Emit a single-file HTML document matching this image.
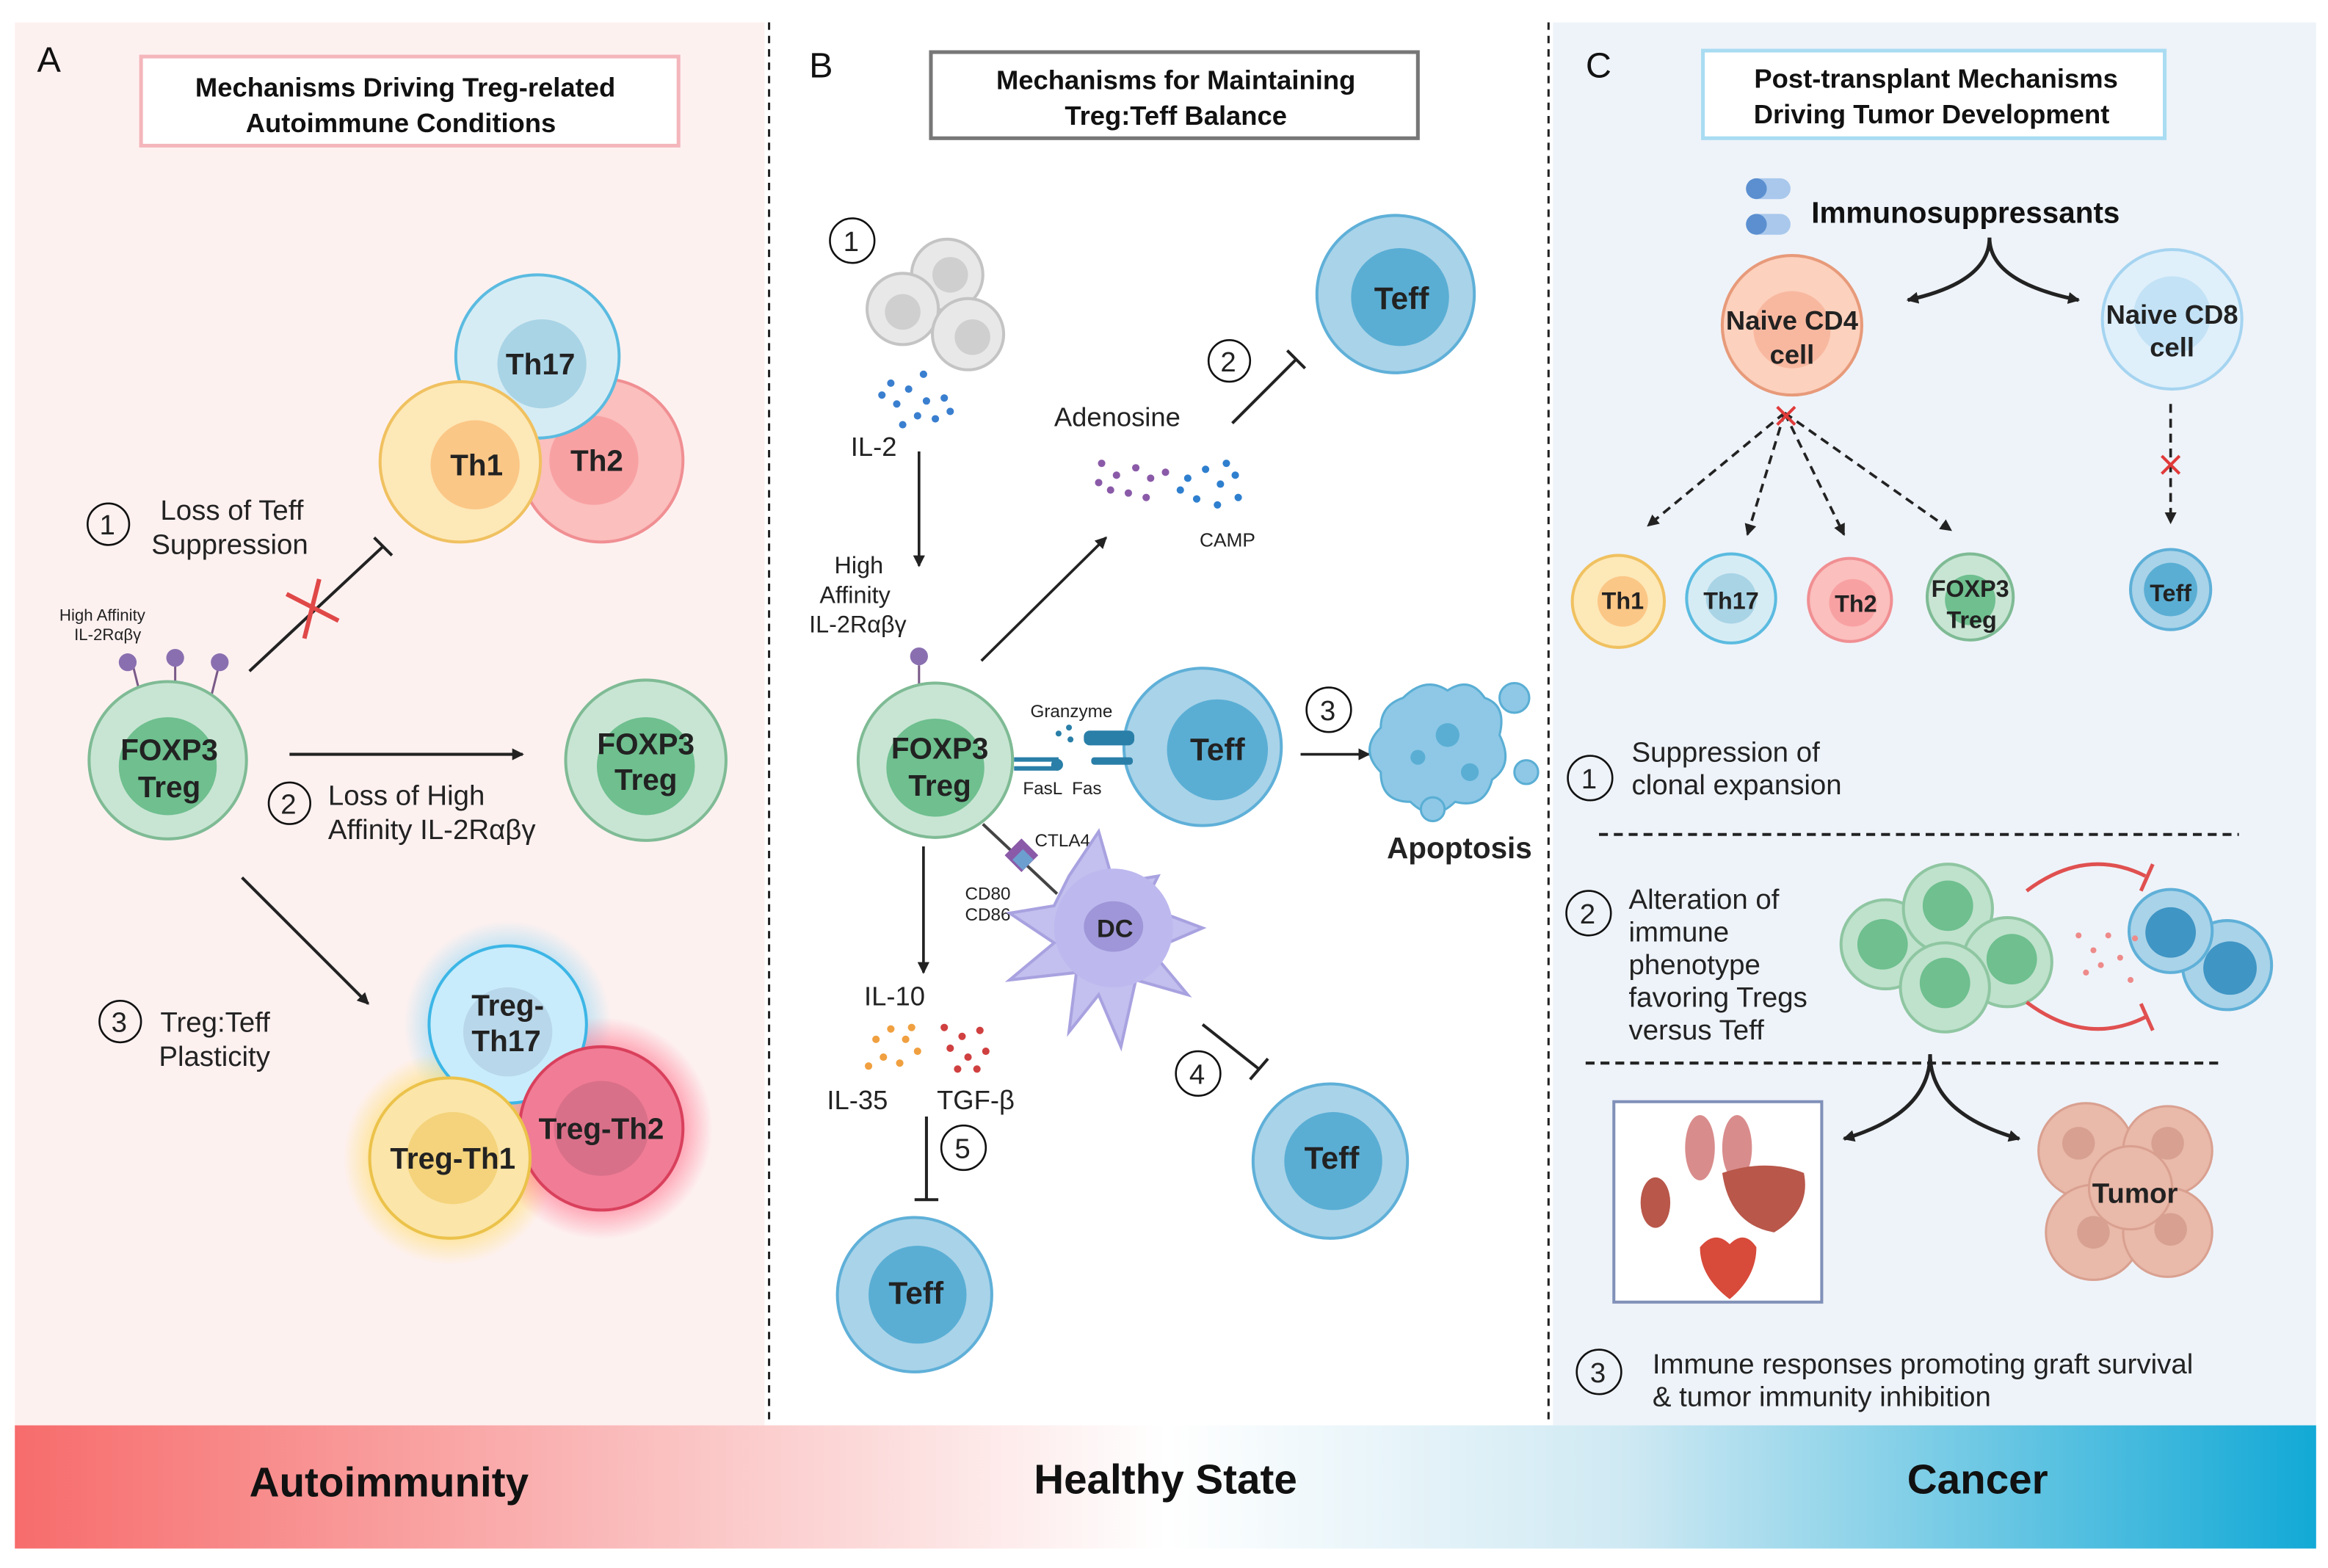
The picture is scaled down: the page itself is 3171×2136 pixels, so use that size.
<!DOCTYPE html>
<html><head><meta charset="utf-8"><style>
html,body{margin:0;padding:0;background:#fff;}
svg{display:block;}
text{font-family:"Liberation Sans",sans-serif;}
</style></head><body>
<svg width="3171" height="2136" viewBox="0 0 1568 1056" xmlns="http://www.w3.org/2000/svg">
<defs>
<linearGradient id="bar" x1="0" x2="1" y1="0" y2="0">
<stop offset="0" stop-color="#f76c6c"/><stop offset="0.3" stop-color="#fbc6c6"/><stop offset="0.5" stop-color="#ffffff"/><stop offset="0.7" stop-color="#cfe9f3"/><stop offset="1" stop-color="#12a9d6"/></linearGradient>
<marker id="ar" markerWidth="8" markerHeight="8" refX="7" refY="4" orient="auto" markerUnits="userSpaceOnUse"><path d="M0,0 L8,4 L0,8 Z" fill="#222"/></marker>
<radialGradient id="gB"><stop offset="0.6" stop-color="#7fd3f5"/><stop offset="1" stop-color="#7fd3f5" stop-opacity="0"/></radialGradient>
<radialGradient id="gY"><stop offset="0.6" stop-color="#ffd84a"/><stop offset="1" stop-color="#ffd84a" stop-opacity="0"/></radialGradient>
<radialGradient id="gR"><stop offset="0.6" stop-color="#ff5577"/><stop offset="1" stop-color="#ff5577" stop-opacity="0"/></radialGradient>
</defs>
<rect width="1568" height="1056" fill="#fff"/>
<rect x="10" y="15" width="505" height="945" fill="#fdf1f0"/>
<rect x="1046" y="15" width="514" height="945" fill="#eef3f9"/>
<line x1="518" y1="15" x2="518" y2="958" stroke="#222" stroke-width="1.5" stroke-dasharray="5,4"/>
<line x1="1043" y1="15" x2="1043" y2="958" stroke="#222" stroke-width="1.5" stroke-dasharray="5,4"/>
<rect x="10" y="960" width="1550" height="83" fill="url(#bar)"/>
<g font-weight="bold" font-size="28" fill="#111" text-anchor="middle">
<text x="262" y="1008">Autoimmunity</text><text x="785" y="1006">Healthy State</text><text x="1332" y="1006">Cancer</text></g>

<g font-size="24" fill="#111"><text x="25" y="48">A</text><text x="545" y="52">B</text><text x="1068" y="52">C</text></g>
<rect x="95" y="38" width="362" height="60" fill="#fff" stroke="#f4b6bb" stroke-width="2.5"/>
<rect x="627" y="35" width="328" height="58" fill="#fff" stroke="#777" stroke-width="2.5"/>
<rect x="1147" y="34" width="311" height="59" fill="#fff" stroke="#a9dcf2" stroke-width="2.5"/>
<g font-weight="bold" font-size="18" fill="#111" text-anchor="middle">
<text x="273" y="65">Mechanisms Driving Treg-related</text><text x="270" y="89">Autoimmune Conditions</text>
<text x="792" y="60">Mechanisms for Maintaining</text><text x="792" y="84">Treg:Teff Balance</text>
<text x="1304" y="59">Post-transplant Mechanisms</text><text x="1301" y="83">Driving Tumor Development</text></g>

<!-- Panel A -->
<circle cx="405" cy="310" r="55" fill="#fbbfbd" stroke="#f08f93" stroke-width="2"/><circle cx="400" cy="310" r="30" fill="#f8a1a3"/>
<circle cx="362" cy="240" r="55" fill="#d6ecf4" stroke="#5bbbe0" stroke-width="2"/><circle cx="365" cy="245" r="30" fill="#a9d4e6"/>
<circle cx="310" cy="311" r="54" fill="#fde8b7" stroke="#f0c160" stroke-width="2"/><circle cx="320" cy="313" r="30" fill="#fbc786"/>
<g font-weight="bold" font-size="20" fill="#222" text-anchor="middle"><text x="364" y="252">Th17</text><text x="321" y="320">Th1</text><text x="402" y="317">Th2</text></g>
<g fill="none" stroke="#111" stroke-width="1.3"><circle cx="73" cy="353" r="14"/><circle cx="195" cy="541" r="14"/><circle cx="81" cy="688" r="14"/></g>
<g font-size="19" fill="#222"><text x="67" y="360">1</text><text x="189" y="548">2</text><text x="75" y="695">3</text>
<text x="108" y="350">Loss of Teff</text><text x="102" y="373">Suppression</text>
<text x="221" y="542">Loss  of High</text><text x="221" y="565">Affinity IL-2Rαβγ</text>
<text x="108" y="695">Treg:Teff</text><text x="107" y="718">Plasticity</text></g>
<text x="40" y="418" font-size="11" fill="#222">High Affinity</text><text x="50" y="431" font-size="11" fill="#222">IL-2Rαβγ</text>
<line x1="168" y1="452" x2="258" y2="368" stroke="#222" stroke-width="2"/><line x1="252" y1="362" x2="264" y2="374" stroke="#222" stroke-width="2"/>
<g stroke="#e04848" stroke-width="3"><line x1="193" y1="400" x2="228" y2="418"/><line x1="215" y1="390" x2="205" y2="430"/></g>
<g stroke="#7a5a88" stroke-width="1.5"><line x1="90" y1="450" x2="95" y2="470"/><line x1="118" y1="448" x2="118" y2="468"/><line x1="147" y1="450" x2="142" y2="470"/></g>
<g fill="#8a6fb0"><circle cx="86" cy="446" r="6"/><circle cx="118" cy="443" r="6"/><circle cx="148" cy="446" r="6"/></g>
<circle cx="113" cy="512" r="53" fill="#c8e5d3" stroke="#7fbb95" stroke-width="2"/><circle cx="113" cy="516" r="33" fill="#6fbf8f"/>
<circle cx="435" cy="512" r="54" fill="#c8e5d3" stroke="#7fbb95" stroke-width="2"/><circle cx="435" cy="516" r="33" fill="#6fbf8f"/>
<g font-weight="bold" font-size="20" fill="#222" text-anchor="middle"><text x="114" y="512">FOXP3</text><text x="114" y="537">Treg</text><text x="435" y="508">FOXP3</text><text x="435" y="532">Treg</text></g>
<line x1="195" y1="508" x2="352" y2="508" stroke="#222" stroke-width="2" marker-end="url(#ar)"/>
<line x1="163" y1="591" x2="248" y2="676" stroke="#222" stroke-width="2" marker-end="url(#ar)"/>
<circle cx="342" cy="690" r="70" fill="url(#gB)" opacity="0.7"/><circle cx="303" cy="780" r="72" fill="url(#gY)" opacity="0.7"/><circle cx="405" cy="760" r="75" fill="url(#gR)" opacity="0.7"/>
<circle cx="342" cy="690" r="53" fill="#c8ecfb" stroke="#3cb6e6" stroke-width="2"/><circle cx="342" cy="695" r="30" fill="#b8d7ea"/>
<circle cx="405" cy="760" r="55" fill="#f17c96" stroke="#d9405c" stroke-width="2"/><circle cx="405" cy="760" r="32" fill="#d9708a"/>
<circle cx="303" cy="780" r="54" fill="#fbe5a8" stroke="#ebc24a" stroke-width="2"/><circle cx="305" cy="780" r="31" fill="#f4d37c"/>
<g font-weight="bold" font-size="20" fill="#222" text-anchor="middle"><text x="342" y="684">Treg-</text><text x="341" y="708">Th17</text><text x="405" y="767">Treg-Th2</text><text x="305" y="787">Treg-Th1</text></g>

<!-- Panel B -->
<g fill="none" stroke="#111" stroke-width="1.3"><circle cx="574" cy="162" r="15"/><circle cx="828" cy="243" r="14"/><circle cx="895" cy="478" r="15"/><circle cx="807" cy="723" r="15"/><circle cx="649" cy="773" r="15"/></g>
<g font-size="19" fill="#222"><text x="568" y="169">1</text><text x="822" y="250">2</text><text x="889" y="485">3</text><text x="801" y="730">4</text><text x="643" y="780">5</text></g>
<g fill="#e8e8e8" stroke="#c4c4c4" stroke-width="2"><circle cx="638" cy="185" r="24"/><circle cx="608" cy="208" r="24"/><circle cx="652" cy="225" r="24"/></g>
<g fill="#cfcfcf"><circle cx="640" cy="185" r="12"/><circle cx="608" cy="210" r="12"/><circle cx="655" cy="227" r="12"/></g>
<g fill="#3a7fcf"><circle cx="600" cy="258" r="2.5"/><circle cx="612" cy="262" r="2.5"/><circle cx="624" cy="270" r="2.5"/><circle cx="636" cy="268" r="2.5"/><circle cx="604" cy="272" r="2.5"/><circle cx="618" cy="280" r="2.5"/><circle cx="630" cy="282" r="2.5"/><circle cx="640" cy="277" r="2.5"/><circle cx="608" cy="286" r="2.5"/><circle cx="622" cy="252" r="2.5"/><circle cx="594" cy="266" r="2.5"/></g>
<g font-size="18" fill="#222"><text x="573" y="307">IL-2</text><text x="710" y="287">Adenosine</text><text x="582" y="677">IL-10</text><text x="557" y="747">IL-35</text><text x="631" y="747">TGF-β</text></g>
<g font-size="16" fill="#222"><text x="562" y="386">High</text><text x="552" y="406">Affinity</text><text x="545" y="426">IL-2Rαβγ</text></g>
<line x1="619" y1="304" x2="619" y2="381" stroke="#222" stroke-width="1.8" marker-end="url(#ar)"/>
<line x1="661" y1="445" x2="745" y2="362" stroke="#222" stroke-width="1.8" marker-end="url(#ar)"/>
<line x1="830" y1="285" x2="873" y2="242" stroke="#222" stroke-width="2"/><line x1="867" y1="236" x2="879" y2="248" stroke="#222" stroke-width="2"/>
<g fill="#8a5aa8"><circle cx="742" cy="312" r="2.5"/><circle cx="752" cy="320" r="2.5"/><circle cx="765" cy="315" r="2.5"/><circle cx="775" cy="322" r="2.5"/><circle cx="748" cy="330" r="2.5"/><circle cx="760" cy="332" r="2.5"/><circle cx="772" cy="335" r="2.5"/><circle cx="785" cy="318" r="2.5"/><circle cx="740" cy="325" r="2.5"/></g>
<g fill="#2f7fcf"><circle cx="800" cy="322" r="2.5"/><circle cx="812" cy="316" r="2.5"/><circle cx="822" cy="326" r="2.5"/><circle cx="832" cy="320" r="2.5"/><circle cx="806" cy="336" r="2.5"/><circle cx="820" cy="340" r="2.5"/><circle cx="834" cy="335" r="2.5"/><circle cx="826" cy="312" r="2.5"/><circle cx="795" cy="330" r="2.5"/></g>
<text x="808" y="368" font-size="13" fill="#222">CAMP</text>
<circle cx="940" cy="198" r="53" fill="#a9d3e9" stroke="#5fb0d8" stroke-width="2"/><circle cx="943" cy="200" r="33" fill="#5aaed4"/>
<line x1="619" y1="448" x2="619" y2="465" stroke="#7a5a88" stroke-width="1.5"/><circle cx="619" cy="442" r="6" fill="#8a6fb0"/>
<circle cx="630" cy="512" r="52" fill="#c8e5d3" stroke="#7fbb95" stroke-width="2"/><circle cx="630" cy="517" r="33" fill="#6fbf8f"/>
<g font-weight="bold" font-size="20" fill="#222" text-anchor="middle"><text x="633" y="511">FOXP3</text><text x="633" y="536">Treg</text></g>
<circle cx="810" cy="503" r="53" fill="#a9d3e9" stroke="#5fb0d8" stroke-width="2"/><circle cx="820" cy="505" r="34" fill="#5aaed4"/>
<g fill="#2a7fa8"><rect x="730" y="492" width="34" height="10" rx="4"/><rect x="735" y="510" width="28" height="5" rx="2"/><rect x="683" y="510" width="30" height="3"/><rect x="683" y="516" width="30" height="3"/><circle cx="712" cy="515" r="4"/><circle cx="713" cy="494" r="2"/><circle cx="720" cy="490" r="2"/><circle cx="721" cy="498" r="2"/></g>
<g font-size="12" fill="#222"><text x="694" y="483">Granzyme</text><text x="689" y="535">FasL</text><text x="722" y="535">Fas</text><text x="697" y="570">CTLA4</text><text x="650" y="606">CD80</text><text x="650" y="620">CD86</text></g>
<g font-weight="bold" font-size="21" fill="#222" text-anchor="middle"><text x="820" y="512">Teff</text><text x="944" y="208">Teff</text><text x="897" y="787">Teff</text><text x="617" y="878">Teff</text></g>
<line x1="876" y1="508" x2="922" y2="508" stroke="#222" stroke-width="1.8" marker-end="url(#ar)"/>
<g fill="#8ec8e6" stroke="#5aaed4" stroke-width="1.5"><path d="M945,470 q15,-15 30,-5 q15,-10 25,5 q15,5 10,25 q10,20 -5,30 q-5,20 -25,15 q-15,15 -30,0 q-20,0 -20,-20 q-15,-15 0,-30 q0,-15 15,-20z"/><circle cx="1020" cy="470" r="10"/><circle cx="1028" cy="520" r="8"/><circle cx="965" cy="545" r="8"/></g>
<g fill="#5aaed4"><circle cx="975" cy="495" r="8"/><circle cx="955" cy="510" r="5"/><circle cx="990" cy="520" r="6"/></g>
<text x="983" y="578" font-weight="bold" font-size="20" fill="#222" text-anchor="middle">Apoptosis</text>
<line x1="662" y1="555" x2="712" y2="602" stroke="#444" stroke-width="2"/>
<rect x="680" y="568" width="16" height="16" fill="#8a5aa8" transform="rotate(45 688 576)"/><rect x="684" y="574" width="10" height="10" fill="#6c9fd0" transform="rotate(45 689 579)"/>
<path d="M720,590 l20,-30 l10,35 l30,-5 l-10,20 l40,15 l-35,15 l25,30 l-35,-10 l-10,45 l-15,-35 l-20,25 l5,-40 l-45,5 l30,-25 l-30,-20 l30,-5 z" fill="#c3bfee" stroke="#a8a2e0" stroke-width="2"/>
<circle cx="750" cy="625" r="40" fill="#bdb8ee"/><ellipse cx="750" cy="624" rx="20" ry="17" fill="#9e96d8"/>
<text x="751" y="631" font-weight="bold" font-size="17" fill="#222" text-anchor="middle">DC</text>
<line x1="622" y1="570" x2="622" y2="655" stroke="#222" stroke-width="1.8" marker-end="url(#ar)"/>
<g fill="#f0a040"><circle cx="590" cy="700" r="2.5"/><circle cx="600" cy="693" r="2.5"/><circle cx="610" cy="700" r="2.5"/><circle cx="595" cy="712" r="2.5"/><circle cx="606" cy="716" r="2.5"/><circle cx="618" cy="708" r="2.5"/><circle cx="585" cy="718" r="2.5"/><circle cx="614" cy="692" r="2.5"/></g>
<g fill="#d04040"><circle cx="636" cy="692" r="2.5"/><circle cx="648" cy="698" r="2.5"/><circle cx="660" cy="694" r="2.5"/><circle cx="640" cy="706" r="2.5"/><circle cx="652" cy="712" r="2.5"/><circle cx="664" cy="708" r="2.5"/><circle cx="645" cy="720" r="2.5"/><circle cx="658" cy="720" r="2.5"/></g>
<line x1="624" y1="752" x2="624" y2="808" stroke="#222" stroke-width="2"/><line x1="616" y1="808" x2="632" y2="808" stroke="#222" stroke-width="2"/>
<line x1="810" y1="690" x2="848" y2="720" stroke="#222" stroke-width="2"/><line x1="842" y1="727" x2="854" y2="713" stroke="#222" stroke-width="2"/>
<circle cx="896" cy="782" r="52" fill="#a9d3e9" stroke="#5fb0d8" stroke-width="2"/><circle cx="898" cy="782" r="33" fill="#5aaed4"/>
<circle cx="616" cy="872" r="52" fill="#a9d3e9" stroke="#5fb0d8" stroke-width="2"/><circle cx="618" cy="872" r="33" fill="#5aaed4"/>
<g font-weight="bold" font-size="21" fill="#222" text-anchor="middle"><text x="897" y="787">Teff</text><text x="617" y="878">Teff</text></g>

<!-- Panel C -->
<g><rect x="1176" y="120" width="30" height="14" rx="7" fill="#a9c8ec"/><rect x="1176" y="144" width="30" height="14" rx="7" fill="#a9c8ec"/><rect x="1176" y="120" width="14" height="14" rx="7" fill="#5b8fd0"/><rect x="1176" y="144" width="14" height="14" rx="7" fill="#5b8fd0"/></g>
<text x="1220" y="150" font-weight="bold" font-size="20" fill="#111">Immunosuppressants</text>
<path d="M1340,160 q0,30 -55,42" fill="none" stroke="#222" stroke-width="2.5" marker-end="url(#ar)"/>
<path d="M1340,160 q0,30 60,42" fill="none" stroke="#222" stroke-width="2.5" marker-end="url(#ar)"/>
<circle cx="1207" cy="219" r="47" fill="#fcd1bd" stroke="#e79a7a" stroke-width="2"/><circle cx="1207" cy="222" r="26" fill="#f8b8a0"/>
<circle cx="1463" cy="215" r="47" fill="#dff0fb" stroke="#a5d4f0" stroke-width="2"/><circle cx="1463" cy="212" r="26" fill="#c3e2f6"/>
<g font-weight="bold" font-size="18" fill="#222" text-anchor="middle"><text x="1207" y="222">Naive CD4</text><text x="1207" y="245">cell</text><text x="1463" y="218">Naive CD8</text><text x="1463" y="240">cell</text></g>
<g stroke="#222" stroke-width="1.8" stroke-dasharray="6,4" fill="none"><line x1="1202" y1="278" x2="1110" y2="354" marker-end="url(#ar)"/><line x1="1202" y1="278" x2="1177" y2="360" marker-end="url(#ar)"/><line x1="1202" y1="278" x2="1242" y2="360" marker-end="url(#ar)"/><line x1="1202" y1="278" x2="1314" y2="357" marker-end="url(#ar)"/><line x1="1462" y1="272" x2="1462" y2="352" marker-end="url(#ar)"/></g>
<g stroke="#e03a3a" stroke-width="2"><line x1="1197" y1="274" x2="1209" y2="286"/><line x1="1209" y1="274" x2="1197" y2="286"/><line x1="1456" y1="307" x2="1468" y2="319"/><line x1="1468" y1="307" x2="1456" y2="319"/></g>
<circle cx="1090" cy="405" r="31" fill="#fde8b7" stroke="#f0c160" stroke-width="2"/><circle cx="1093" cy="405" r="17" fill="#fbc786"/>
<circle cx="1166" cy="403" r="30" fill="#d6ecf4" stroke="#5bbbe0" stroke-width="2"/><circle cx="1166" cy="403" r="17" fill="#a9d4e6"/>
<circle cx="1246" cy="404" r="28" fill="#fbbfbd" stroke="#f08f93" stroke-width="2"/><circle cx="1248" cy="406" r="16" fill="#f8a1a3"/>
<circle cx="1327" cy="402" r="29" fill="#c8e5d3" stroke="#7fbb95" stroke-width="2"/><circle cx="1327" cy="404" r="17" fill="#6fbf8f"/>
<circle cx="1462" cy="397" r="27" fill="#a9d3e9" stroke="#5fb0d8" stroke-width="2"/><circle cx="1462" cy="397" r="18" fill="#5aaed4"/>
<g font-weight="bold" font-size="16" fill="#222" text-anchor="middle"><text x="1093" y="410">Th1</text><text x="1166" y="410">Th17</text><text x="1250" y="412">Th2</text><text x="1327" y="402">FOXP3</text><text x="1328" y="423">Treg</text><text x="1462" y="405">Teff</text></g>
<g fill="none" stroke="#111" stroke-width="1.3"><circle cx="1071" cy="524" r="15"/><circle cx="1070" cy="615" r="15"/><circle cx="1077" cy="924" r="15"/></g>
<g font-size="19" fill="#222"><text x="1065" y="531">1</text><text x="1064" y="622">2</text><text x="1071" y="931">3</text>
<text x="1099" y="513">Suppression of</text><text x="1099" y="535">clonal expansion</text>
<text x="1097" y="612">Alteration of</text><text x="1097" y="634">immune</text><text x="1097" y="656">phenotype</text><text x="1097" y="678">favoring Tregs</text><text x="1097" y="700">versus Teff</text>
<text x="1113" y="925">Immune responses promoting graft survival</text><text x="1113" y="947">&amp;  tumor immunity inhibition</text></g>
<line x1="1077" y1="562" x2="1508" y2="562" stroke="#222" stroke-width="2" stroke-dasharray="6,4"/>
<line x1="1068" y1="716" x2="1495" y2="716" stroke="#222" stroke-width="2" stroke-dasharray="6,4"/>
<g fill="#bfe2cc" stroke="#8fc6a2" stroke-width="2"><circle cx="1270" cy="636" r="30"/><circle cx="1312" cy="612" r="30"/><circle cx="1352" cy="648" r="30"/><circle cx="1310" cy="665" r="30"/></g>
<g fill="#6fbf8f"><circle cx="1268" cy="636" r="17"/><circle cx="1312" cy="610" r="17"/><circle cx="1355" cy="646" r="17"/><circle cx="1310" cy="662" r="17"/></g>
<circle cx="1500" cy="650" r="30" fill="#a9d3e9" stroke="#5fb0d8" stroke-width="2"/><circle cx="1502" cy="652" r="18" fill="#3f95c4"/>
<circle cx="1462" cy="627" r="28" fill="#a9d3e9" stroke="#5fb0d8" stroke-width="2"/><circle cx="1462" cy="628" r="17" fill="#3f95c4"/>
<g fill="#ee8a8a"><circle cx="1400" cy="630" r="2"/><circle cx="1410" cy="640" r="2"/><circle cx="1420" cy="630" r="2"/><circle cx="1415" cy="650" r="2"/><circle cx="1428" cy="645" r="2"/><circle cx="1435" cy="660" r="2"/><circle cx="1438" cy="632" r="2"/><circle cx="1405" cy="655" r="2"/></g>
<path d="M1365,600 q40,-30 80,-10" fill="none" stroke="#e05050" stroke-width="2.5"/><line x1="1450" y1="582" x2="1442" y2="600" stroke="#e05050" stroke-width="2.5"/>
<path d="M1365,675 q40,30 80,10" fill="none" stroke="#e05050" stroke-width="2.5"/><line x1="1442" y1="676" x2="1450" y2="694" stroke="#e05050" stroke-width="2.5"/>
<path d="M1300,710 q0,40 -58,57" fill="none" stroke="#222" stroke-width="2.5" marker-end="url(#ar)"/>
<path d="M1300,710 q0,40 60,57" fill="none" stroke="#222" stroke-width="2.5" marker-end="url(#ar)"/>
<rect x="1087" y="742" width="140" height="135" fill="#fff" stroke="#8090b8" stroke-width="2"/>
<g fill="#d98c8c"><ellipse cx="1145" cy="773" rx="10" ry="22"/><ellipse cx="1170" cy="773" rx="10" ry="22"/></g>
<path d="M1160,790 q30,-10 55,0 q5,25 -20,40 q-30,-5 -35,-40z" fill="#b8574a"/>
<ellipse cx="1115" cy="810" rx="10" ry="17" fill="#b8574a"/>
<path d="M1145,840 q10,-12 20,-2 q10,-10 18,2 q0,20 -18,35 q-20,-15 -20,-35z" fill="#d84a3a"/>
<g fill="#e9b9a9" stroke="#d9a090" stroke-width="1.5"><circle cx="1405" cy="775" r="32"/><circle cx="1460" cy="775" r="30"/><circle cx="1410" cy="830" r="32"/><circle cx="1460" cy="830" r="30"/><circle cx="1435" cy="800" r="28"/></g>
<g fill="#d7a090"><circle cx="1400" cy="770" r="11"/><circle cx="1460" cy="770" r="11"/><circle cx="1410" cy="830" r="11"/><circle cx="1462" cy="828" r="11"/></g>
<text x="1438" y="810" font-weight="bold" font-size="19" fill="#222" text-anchor="middle">Tumor</text>
</svg>
</body></html>
